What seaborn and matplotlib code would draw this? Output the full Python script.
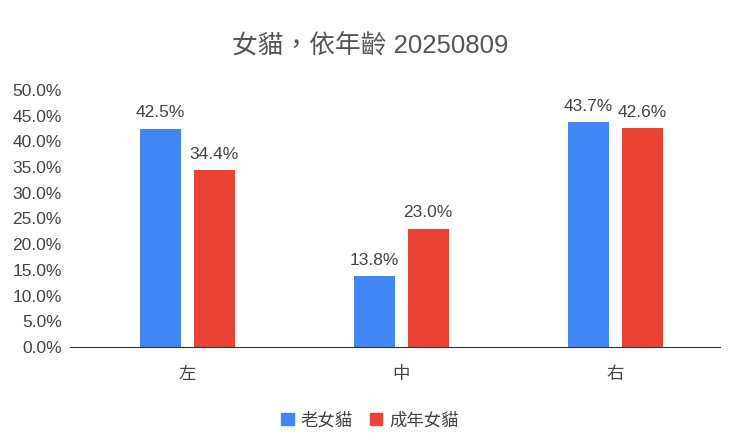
import matplotlib
matplotlib.use("Agg")
import matplotlib.pyplot as plt
import seaborn as sns
import pandas as pd
from matplotlib.ticker import FuncFormatter

categories = ["左", "中", "右"]
series = ["老女貓", "成年女貓"]
old_vals = [42.5, 13.8, 43.7]
adult_vals = [34.4, 23.0, 42.6]
colors = ["#4285F4", "#EA4335"]

df = pd.DataFrame({
    "cat": categories * 2,
    "series": [series[0]] * 3 + [series[1]] * 3,
    "val": old_vals + adult_vals,
})

sns.set_style("white")
plt.rcParams['font.family'] = ['Liberation Sans', 'Noto Sans CJK TC', 'DejaVu Sans']

fig = plt.figure(figsize=(7.40, 4.43), dpi=100)
ax = fig.add_axes([70/740, 1-347/443, 650/740, 257/443])
sns.barplot(data=df, x="cat", y="val", hue="series", palette=colors,
            width=0.505, gap=0.24, ax=ax, legend=False, saturation=1,
            linewidth=0)
ax.set_xlim(-0.547, 2.49)
ax.set_ylim(0, 50)
ax.set_yticks(range(0, 51, 5))
ax.yaxis.set_major_formatter(FuncFormatter(lambda v, p: f"{v:.1f}%"))
ax.tick_params(axis='y', labelsize=12.5, colors="#444444", length=0, pad=6)
ax.tick_params(axis='x', labelsize=12.5, colors="#444444", length=0, pad=14)
ax.set_xlabel("")
ax.set_ylabel("")
for s in ["top", "right", "left"]:
    ax.spines[s].set_visible(False)
ax.spines["bottom"].set_color("#333333")
for c in ax.containers:
    ax.bar_label(c, labels=[f"{v:.1f}%" for v in c.datavalues], padding=6,
                 fontsize=12.5, color="#444444")
fig.text(0.5, 1-45/443, "女貓，依年齡 20250809", ha="center", va="center",
         fontsize=18.5, color="#555555")
handles = [plt.Rectangle((0, 0), 1, 1, color=c) for c in colors]
fig.legend(handles, series, loc="center", bbox_to_anchor=(0.5, 1-420/443),
           ncol=2, frameon=False, fontsize=12.5, handlelength=0.7, handleheight=0.7,
           columnspacing=1.0, handletextpad=0.4, labelcolor="#444444")
fig.savefig("out.png", dpi=100)
